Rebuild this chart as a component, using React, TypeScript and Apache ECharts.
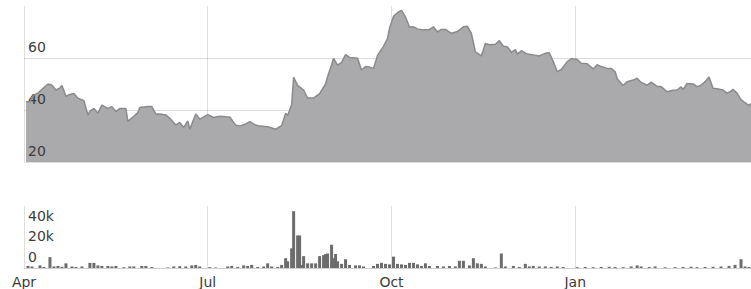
import React, { useEffect, useRef } from 'react';
import * as echarts from 'echarts';

// Price (area) series
const priceDates = [
  '2013-04-01','2013-04-03','2013-04-05','2013-04-07','2013-04-09','2013-04-12','2013-04-14','2013-04-16','2013-04-18','2013-04-19',
  '2013-04-21','2013-04-23','2013-04-25','2013-04-27','2013-04-30','2013-05-02','2013-05-03','2013-05-05','2013-05-07','2013-05-09',
  '2013-05-12','2013-05-14','2013-05-16','2013-05-18','2013-05-21','2013-05-22','2013-05-25','2013-05-27','2013-05-28','2013-06-01',
  '2013-06-03','2013-06-05','2013-06-07','2013-06-10','2013-06-12','2013-06-15','2013-06-17','2013-06-19','2013-06-21','2013-06-22',
  '2013-06-25','2013-06-27','2013-07-01','2013-07-04','2013-07-07','2013-07-10','2013-07-12','2013-07-15','2013-07-17','2013-07-20',
  '2013-07-22','2013-07-25','2013-07-27','2013-07-31','2013-08-04','2013-08-07','2013-08-09','2013-08-10','2013-08-12','2013-08-13',
  '2013-08-15','2013-08-18','2013-08-20','2013-08-23','2013-08-26','2013-08-29','2013-08-30','2013-09-01','2013-09-02','2013-09-04',
  '2013-09-06','2013-09-08','2013-09-10','2013-09-14','2013-09-16','2013-09-18','2013-09-20','2013-09-22','2013-09-24','2013-09-27',
  '2013-09-29','2013-09-30','2013-10-02','2013-10-04','2013-10-06','2013-10-08','2013-10-10','2013-10-12','2013-10-14','2013-10-17',
  '2013-10-20','2013-10-22','2013-10-24','2013-10-26','2013-10-28','2013-10-31','2013-11-03','2013-11-06','2013-11-08','2013-11-10',
  '2013-11-12','2013-11-15','2013-11-17','2013-11-19','2013-11-22','2013-11-24','2013-11-26','2013-11-28','2013-11-30','2013-12-02',
  '2013-12-03','2013-12-05','2013-12-08','2013-12-11','2013-12-14','2013-12-17','2013-12-19','2013-12-21','2013-12-23','2013-12-25',
  '2013-12-28','2013-12-30','2014-01-02','2014-01-04','2014-01-07','2014-01-10','2014-01-12','2014-01-14','2014-01-17','2014-01-19',
  '2014-01-21','2014-01-22','2014-01-25','2014-01-27','2014-01-30','2014-02-01','2014-02-03','2014-02-06','2014-02-08','2014-02-11',
  '2014-02-13','2014-02-16','2014-02-19','2014-02-21','2014-02-23','2014-02-24','2014-02-26','2014-03-01','2014-03-03','2014-03-05',
  '2014-03-07','2014-03-09','2014-03-11','2014-03-13','2014-03-16','2014-03-18','2014-03-20','2014-03-21','2014-03-23','2014-03-25',
  '2014-03-27','2014-03-29','2014-03-30'
];
const priceValues = [
  43.2,43.2,45.8,46.5,48,50,49.5,47.7,48.5,49.4,
  45.3,46,46.4,44.5,43.6,38.1,39.5,40.6,38.8,41.9,
  40.6,41.3,39.4,40.6,40.6,35.6,37.6,39,41,41.3,
  41.3,38.4,38.5,38.1,36.8,34.2,35.2,33.3,35.8,32.6,
  38.5,36.5,38.2,37.1,37.6,37.4,37.3,34.2,33.8,34.6,
  35.5,34.2,33.8,33.6,32.6,34,38.7,37.9,42,52.6,
  49.5,47.7,44.6,44.6,46.3,50,52.8,57.3,59.9,57.3,
  58.3,61.3,60.2,59.9,55.4,56.7,56.5,56,61,64.5,
  67.5,71.4,76,77.4,78.3,75.8,71.9,72,71.2,70.8,
  71,72,70,71,71,69.5,70.2,72,72.2,69.5,
  62.4,60.8,65.6,65.1,65.3,66.7,64.5,64.3,62.2,63.2,
  61.5,62.8,61.5,61.2,60.8,61.8,62,58.6,54.7,55.6,
  58.6,59.7,59.4,58,57.8,55.8,57.4,56.7,56,56,
  54.7,52,49.4,50.9,51.5,52.2,50.6,49.5,50.7,49.1,
  49,47,47.6,47.7,48.9,47.9,50.2,50,49,49.5,
  50.9,52.7,48.4,48.2,47.7,46.5,47.2,48,46.5,44,
  42.8,41.7,42.5
];

// Volume (bar) series
const volumeDates = [
  '2013-04-02','2013-04-04','2013-04-08','2013-04-10','2013-04-13','2013-04-15','2013-04-17','2013-04-19','2013-04-21','2013-04-24',
  '2013-04-26','2013-04-29','2013-05-03','2013-05-05','2013-05-07','2013-05-09','2013-05-12','2013-05-14','2013-05-16','2013-05-20',
  '2013-05-23','2013-05-25','2013-05-29','2013-05-31','2013-06-03','2013-06-11','2013-06-14','2013-06-17','2013-06-20','2013-06-23',
  '2013-06-25','2013-06-27','2013-07-02','2013-07-05','2013-07-11','2013-07-13','2013-07-16','2013-07-19','2013-07-21','2013-07-23',
  '2013-07-26','2013-07-29','2013-07-31','2013-08-02','2013-08-05','2013-08-07','2013-08-09','2013-08-10','2013-08-12','2013-08-13',
  '2013-08-15','2013-08-16','2013-08-17','2013-08-18','2013-08-20','2013-08-22','2013-08-24','2013-08-26','2013-08-28','2013-08-29',
  '2013-08-30','2013-09-01','2013-09-02','2013-09-03','2013-09-04','2013-09-06','2013-09-08','2013-09-10','2013-09-13','2013-09-15',
  '2013-09-17','2013-09-22','2013-09-24','2013-09-26','2013-09-28','2013-09-30','2013-10-02','2013-10-04','2013-10-06','2013-10-08',
  '2013-10-10','2013-10-12','2013-10-14','2013-10-16','2013-10-18','2013-10-20','2013-10-24','2013-10-27','2013-10-30','2013-11-02',
  '2013-11-04','2013-11-06','2013-11-09','2013-11-11','2013-11-13','2013-11-15','2013-11-17','2013-11-22','2013-11-25','2013-11-27',
  '2013-12-01','2013-12-04','2013-12-07','2013-12-09','2013-12-11','2013-12-14','2013-12-17','2013-12-20','2013-12-23','2013-12-26',
  '2014-01-02','2014-01-06','2014-01-10','2014-01-14','2014-01-18','2014-01-21','2014-01-25','2014-01-29','2014-02-01','2014-02-03',
  '2014-02-07','2014-02-10','2014-02-15','2014-02-20','2014-02-24','2014-02-28','2014-03-03','2014-03-07','2014-03-11','2014-03-15',
  '2014-03-19','2014-03-22','2014-03-25','2014-03-27','2014-03-29'
];
const volumeValues = [
  2000,1500,2500,1000,10500,1500,2000,1200,4500,1500,
  1000,1500,5000,5000,2500,2000,2000,1500,2000,800,
  1500,1500,2000,2000,1000,500,1500,1800,1500,2500,
  3000,1500,800,500,1500,2000,1000,2500,2000,3000,
  1000,1500,4500,1500,1000,3000,9500,6500,19000,55000,
  31500,31500,3000,11500,4500,4500,4500,11500,12500,13500,
  14000,22500,9500,13500,6500,4000,8500,3000,2500,2500,
  1500,2000,4000,5000,4000,3500,11000,4000,3500,3000,
  5000,5000,3500,2000,4500,2000,2000,1500,2000,1500,
  7000,7000,2500,9500,4500,4000,1500,500,14000,1500,
  2000,1000,4000,1500,2000,1500,1500,1000,1500,1000,
  800,1000,800,1000,1200,1000,800,1500,2500,1500,
  1000,1500,700,800,1000,1200,800,1000,1200,1500,
  2000,3000,8500,1500,1000
];

// Axis ticks
const xTickDates = ['2013-03-31', '2013-07-01', '2013-10-01', '2014-01-01'];
const xTickLabels = ['Apr', 'Jul', 'Oct', 'Jan'];
const xRange = ['2013-03-31', '2014-03-30'];
const priceAxis = [20, 80, 20];
const volumeAxis = [0, 60000, 20000];

const ts = (s: string) => {
  const [y, m, d] = s.split('-').map(Number);
  return new Date(y, m - 1, d).getTime();
};

export default function App() {
  const ref = useRef<HTMLDivElement>(null);
  useEffect(() => {
    if (!ref.current) return;
    const chart = echarts.init(ref.current, undefined, { renderer: 'svg' });
    const tickTs = xTickDates.map(ts);
    const fmtX = (v: number) => {
      const i = tickTs.findIndex((t) => Math.abs(t - v) < 43200000);
      return i >= 0 ? xTickLabels[i] : '';
    };
    const gridColor = 'rgba(0,0,0,0.13)';
    const font = 'DejaVu Sans';
    const labelColor = '#3c3c3c';
    const baseX = {
      type: 'value' as const,
      min: ts(xRange[0]),
      max: ts(xRange[1]),
      z: 3,
      axisTick: { show: false, customValues: tickTs },
      splitLine: { show: true, lineStyle: { color: gridColor, width: 1 } },
    };
    chart.setOption({
      animation: false,
      textStyle: { fontFamily: font },
      grid: [
        { left: 24, right: 0, top: 6, height: 156 },
        { left: 24, right: 0, top: 206, height: 62 },
      ],
      xAxis: [
        {
          ...baseX,
          gridIndex: 0,
          axisLine: { show: false },
          axisLabel: { show: false, customValues: tickTs },
        },
        {
          ...baseX,
          gridIndex: 1,
          axisLine: { show: true, lineStyle: { color: '#cfcfcf', width: 1 } },
          axisLabel: {
            show: true,
            customValues: tickTs,
            formatter: fmtX,
            fontSize: 14,
            color: labelColor,
            fontFamily: font,
            margin: 7,
          },
        },
      ],
      yAxis: [
        {
          type: 'value',
          gridIndex: 0,
          min: priceAxis[0],
          max: priceAxis[1],
          interval: priceAxis[2],
          z: 3,
          axisLine: { show: false },
          axisTick: { show: false },
          axisLabel: {
            inside: true,
            showMaxLabel: false,
            fontSize: 14,
            color: labelColor,
            fontFamily: font,
            margin: 4,
            verticalAlign: 'bottom',
            padding: [0, 0, 4, 0],
          },
          splitLine: {
            show: true,
            lineStyle: { color: [gridColor, gridColor, gridColor, 'rgba(0,0,0,0)'], width: 1 },
          },
        },
        {
          type: 'value',
          gridIndex: 1,
          min: volumeAxis[0],
          max: volumeAxis[1],
          interval: volumeAxis[2],
          z: 3,
          axisLine: { show: false },
          axisTick: { show: false },
          axisLabel: {
            inside: true,
            showMaxLabel: false,
            fontSize: 14,
            color: labelColor,
            fontFamily: font,
            margin: 4,
            verticalAlign: 'bottom',
            padding: [0, 0, 4, 0],
            formatter: (v: number) => (v === 0 ? '0' : v / 1000 + 'k'),
          },
          splitLine: { show: false },
        },
      ],
      series: [
        {
          type: 'line',
          xAxisIndex: 0,
          yAxisIndex: 0,
          data: priceDates.map((d, i) => [ts(d), priceValues[i]]),
          symbol: 'none',
          lineStyle: { color: '#8a8a8c', width: 1.5 },
          areaStyle: { color: '#aaaaad', opacity: 1, origin: 'start' },
          silent: true,
        },
        {
          type: 'bar',
          xAxisIndex: 1,
          yAxisIndex: 1,
          data: volumeDates.map((d, i) => [ts(d), volumeValues[i]]),
          barWidth: 3,
          itemStyle: { color: '#6c6c6c' },
          silent: true,
        },
      ],
    });
    return () => chart.dispose();
  }, []);
  return (
    <div
      ref={ref}
      style={{ position: 'absolute', left: 0, top: 0, width: 751, height: 289, background: '#fff' }}
    />
  );
}
